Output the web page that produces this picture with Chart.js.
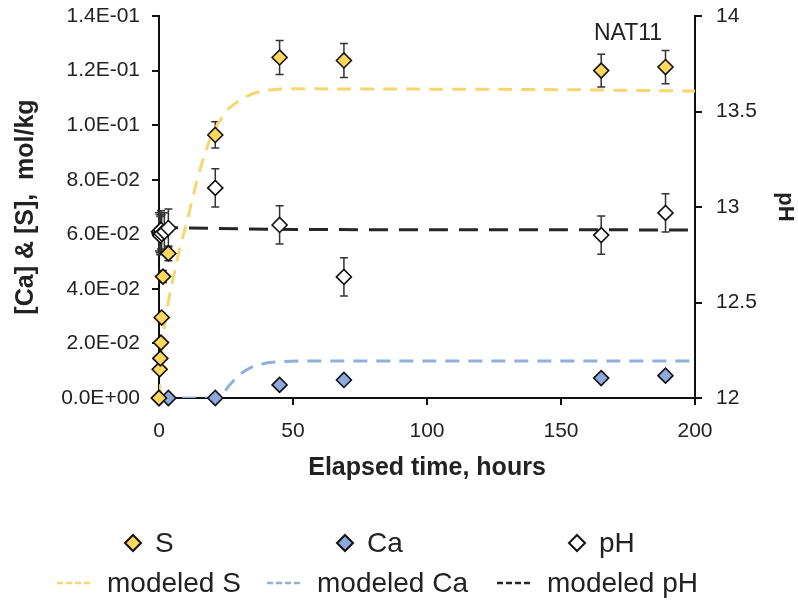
<!DOCTYPE html>
<html>
<head>
<meta charset="utf-8">
<script src="https://cdn.jsdelivr.net/npm/chart.js@4.4.1/dist/chart.umd.min.js"></script>
<style>
  html, body { margin: 0; padding: 0; background: #fff; }
  #wrap { width: 798px; height: 603px; }
</style>
</head>
<body>
<div id="wrap"><canvas id="chart" width="798" height="603"></canvas></div>
<script>
// measured points
const sTime = [0, 0.25, 0.5, 0.75, 1, 1.5, 3.5, 21, 45, 69, 165, 189];
const sValues = [0, 0.0105, 0.0145, 0.0203, 0.0295, 0.0445, 0.053, 0.0964, 0.1248, 0.1237, 0.1200, 0.1213];
const sErr = [0, 0.0005, 0.0007, 0.001, 0.0015, 0.0022, 0.0027, 0.0048, 0.0062, 0.0062, 0.006, 0.0061];

const caTime = [0, 3.5, 21, 45, 69, 165, 189];
const caValues = [0, 0, 0, 0.0048, 0.0066, 0.0073, 0.0082];

const phTime = [0, 0.25, 0.5, 0.75, 1, 2, 3.5, 21, 45, 69, 165, 189];
const phValues = [12.87, 12.86, 12.85, 12.88, 12.86, 12.87, 12.89, 13.10, 12.906, 12.634, 12.853, 12.969];
const phErr = [0.1, 0.1, 0.1, 0.1, 0.1, 0.1, 0.1, 0.1, 0.1, 0.1, 0.1, 0.1];

// model curves
const modelSTime = [0, 0.5, 1, 2, 4, 6, 8, 10, 12, 14, 16, 18, 20, 23, 26, 30, 35, 40, 50, 100, 150, 200];
const modelS = [0, 0.008, 0.017, 0.026, 0.038, 0.047, 0.056, 0.063, 0.071, 0.079, 0.086, 0.092, 0.097, 0.102, 0.106, 0.109, 0.1115, 0.1127, 0.1133, 0.1132, 0.113, 0.1125];

const modelCaTime = [0, 21, 24, 27, 30, 35, 40, 45, 55, 100, 200];
const modelCa = [0, 0, 0.002, 0.0055, 0.0085, 0.0115, 0.0128, 0.0133, 0.0136, 0.0136, 0.0136];

const modelPhTime = [0, 3, 20, 50, 100, 200];
const modelPh = [12.895, 12.893, 12.888, 12.882, 12.881, 12.88];

const leftTickLabels = ['0.0E+00', '2.0E-02', '4.0E-02', '6.0E-02', '8.0E-02', '1.0E-01', '1.2E-01', '1.4E-01'];
const rightTickLabels = ['12', '12.5', '13', '13.5', '14'];
const xTitle = 'Elapsed time, hours';
const yTitle = '[Ca] & [S],  mol/kg';
const phTitle = 'pH';
const sampleLabel = 'NAT11';

const FONT = "'Liberation Sans', Arial, sans-serif";
const TEXT = '#222';
const S_FILL = '#FFD75E';
const CA_FILL = '#8EA9DB';
const S_LINE = '#F8D66F';
const CA_LINE = '#8FAFDC';
const PH_LINE = '#262626';

const toPoints = (xs, ys) => xs.map((x, i) => ({ x: x, y: ys[i] }));

function diamond(ctx, x, y, r, fill) {
    ctx.beginPath();
    ctx.moveTo(x, y - r);
    ctx.lineTo(x + r, y);
    ctx.lineTo(x, y + r);
    ctx.lineTo(x - r, y);
    ctx.closePath();
    ctx.fillStyle = fill;
    ctx.fill();
    ctx.lineWidth = 2;
    ctx.strokeStyle = '#111';
    ctx.stroke();
}

const errorBars = {
    id: 'errorBars',
    beforeDatasetsDraw(chart) {
        const { ctx } = chart;
        const xs = chart.scales.x;
        const sets = [
            [sTime, sValues, sErr, chart.scales.y],
            [phTime, phValues, phErr, chart.scales.pH]
        ];
        ctx.save();
        ctx.strokeStyle = '#333';
        ctx.lineWidth = 1.5;
        sets.forEach(([ts, vs, es, ys]) => {
            ts.forEach((t, i) => {
                if (!es[i]) return;
                const px = xs.getPixelForValue(t);
                const top = ys.getPixelForValue(vs[i] + es[i]);
                const bot = ys.getPixelForValue(vs[i] - es[i]);
                ctx.beginPath();
                ctx.moveTo(px, top);
                ctx.lineTo(px, bot);
                ctx.moveTo(px - 4, top);
                ctx.lineTo(px + 4, top);
                ctx.moveTo(px - 4, bot);
                ctx.lineTo(px + 4, bot);
                ctx.stroke();
            });
        });
        ctx.restore();
    }
};

const extras = {
    id: 'extras',
    afterDraw(chart) {
        const { ctx } = chart;
        ctx.save();
        // sample name
        ctx.font = '23px ' + FONT;
        ctx.fillStyle = TEXT;
        ctx.textAlign = 'center';
        ctx.textBaseline = 'middle';
        ctx.fillText(sampleLabel, chart.scales.x.getPixelForValue(175), chart.scales.y.getPixelForValue(0.1337));

        // legend, row of markers
        ctx.font = '28px ' + FONT;
        ctx.textAlign = 'left';
        const markers = [['S', S_FILL, 133], ['Ca', CA_FILL, 345], ['pH', '#fff', 577]];
        markers.forEach(([label, fill, x]) => {
            diamond(ctx, x, 543, 8, fill);
            ctx.fillStyle = TEXT;
            ctx.fillText(label, x + 22, 544);
        });

        // legend, row of lines
        const lines = [['modeled S', S_LINE, 57], ['modeled Ca', CA_LINE, 267], ['modeled pH', PH_LINE, 497]];
        lines.forEach(([label, color, x]) => {
            ctx.beginPath();
            ctx.setLineDash([6, 3]);
            ctx.lineWidth = 2.5;
            ctx.strokeStyle = color;
            ctx.moveTo(x, 583);
            ctx.lineTo(x + 36, 583);
            ctx.stroke();
            ctx.setLineDash([]);
            ctx.fillStyle = TEXT;
            ctx.fillText(label, x + 50, 584);
        });
        ctx.restore();
    }
};

const tickFont = { family: FONT, size: 21 };
const axisGrid = { drawOnChartArea: false, drawTicks: true, tickLength: 7, color: '#111', lineWidth: 2 };
const axisBorder = { display: true, color: '#111', width: 2 };

const fitSide = w => s => { s.width = w; s.paddingTop = 0; s.paddingBottom = 0; };

const ctx = document.getElementById('chart').getContext('2d');
new Chart(ctx, {
    type: 'scatter',
    data: {
        datasets: [
            {
                label: 'modeled S', type: 'line', yAxisID: 'y',
                data: toPoints(modelSTime, modelS),
                borderColor: S_LINE, borderWidth: 3, borderDash: [14, 9],
                pointRadius: 0, fill: false, cubicInterpolationMode: 'monotone', order: 10
            },
            {
                label: 'modeled Ca', type: 'line', yAxisID: 'y',
                data: toPoints(modelCaTime, modelCa),
                borderColor: CA_LINE, borderWidth: 3, borderDash: [14, 9],
                pointRadius: 0, fill: false, cubicInterpolationMode: 'monotone', order: 9
            },
            {
                label: 'modeled pH', type: 'line', yAxisID: 'pH',
                data: toPoints(modelPhTime, modelPh),
                borderColor: PH_LINE, borderWidth: 3, borderDash: [19, 11],
                pointRadius: 0, fill: false, order: 8
            },
            {
                label: 'Ca', yAxisID: 'y', data: toPoints(caTime, caValues),
                pointStyle: 'rectRot', pointRadius: 7.5, backgroundColor: CA_FILL,
                borderColor: '#111', borderWidth: 1.6, clip: false, order: 3
            },
            {
                label: 'pH', yAxisID: 'pH', data: toPoints(phTime, phValues),
                pointStyle: 'rectRot', pointRadius: 7.5, backgroundColor: '#fff',
                borderColor: '#111', borderWidth: 1.6, clip: false, order: 2
            },
            {
                label: 'S', yAxisID: 'y', data: toPoints(sTime, sValues),
                pointStyle: 'rectRot', pointRadius: 7.5, backgroundColor: S_FILL,
                borderColor: '#111', borderWidth: 1.6, clip: false, order: 1
            }
        ]
    },
    options: {
        responsive: false,
        animation: false,
        events: [],
        layout: { padding: { top: 16, bottom: 120, left: 0, right: 0 } },
        plugins: {
            legend: { display: false },
            tooltip: { enabled: false }
        },
        scales: {
            x: {
                type: 'linear', position: 'bottom', min: 0, max: 200,
                ticks: { stepSize: 50, font: tickFont, color: TEXT, padding: 14 },
                grid: axisGrid, border: axisBorder,
                title: { display: true, text: xTitle, color: TEXT, padding: 0,
                         font: { family: FONT, size: 25, weight: 'bold' } },
                afterFit: s => { s.height = 85; }
            },
            y: {
                type: 'linear', position: 'left', min: 0, max: 0.14,
                ticks: { stepSize: 0.02, font: tickFont, color: TEXT, padding: 12,
                         callback: (v, i) => leftTickLabels[i] },
                grid: axisGrid, border: axisBorder,
                title: { display: true, text: yTitle, color: TEXT, padding: { top: 11 },
                         font: { family: FONT, size: 25, weight: 'bold' } },
                afterFit: fitSide(159)
            },
            pH: {
                type: 'linear', position: 'right', min: 12, max: 14,
                ticks: { stepSize: 0.5, font: tickFont, color: TEXT, padding: 14,
                         callback: (v, i) => rightTickLabels[i] },
                grid: axisGrid, border: axisBorder,
                title: { display: true, text: phTitle, color: TEXT, padding: { top: 0 },
                         font: { family: FONT, size: 22, weight: 'bold' } },
                afterFit: fitSide(103)
            }
        }
    },
    plugins: [errorBars, extras]
});
</script>
</body>
</html>
